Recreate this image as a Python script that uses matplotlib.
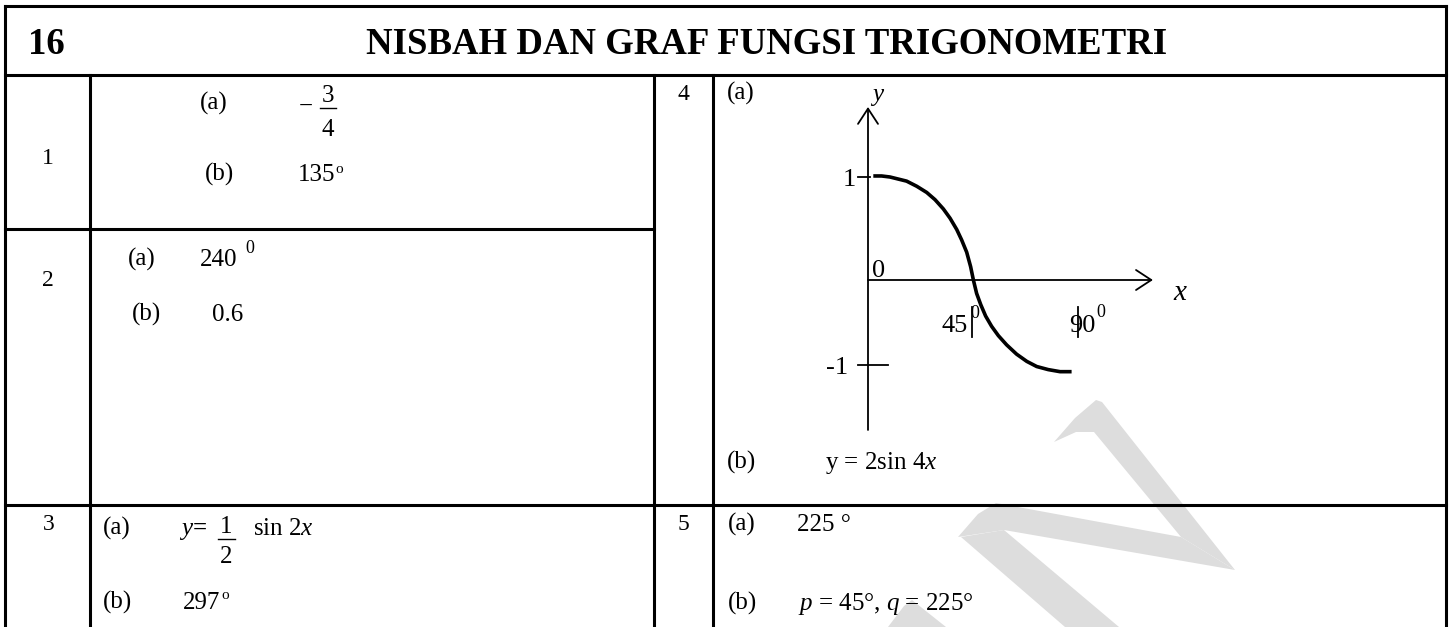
import matplotlib
matplotlib.use('Agg')
import matplotlib.pyplot as plt
from matplotlib.patches import Polygon

plt.rcParams['font.family'] = ['Liberation Serif', 'DejaVu Serif']
plt.rcParams['mathtext.fontset'] = 'custom'
plt.rcParams['mathtext.rm'] = 'Liberation Serif'
plt.rcParams['mathtext.it'] = 'Liberation Serif:italic'
plt.rcParams['mathtext.bf'] = 'Liberation Serif:bold'

# ---------------- data ----------------
title_number = '16'
title_text = 'NISBAH DAN GRAF FUNGSI TRIGONOMETRI'
question_numbers = ['1', '2', '3', '4', '5']
part_labels = ['(a)', '(b)']

q1_answers = ['135']          # (a) is the fraction -3/4
q1_fraction = ('\u2212', '3', '4')
q2_answers = ['240', '0.6']
q3_fraction = ('1', '2')
q3_answers = ['297']
q4_answer_b = 'y = 2sin 4$x$'
q5_answers = ['225 \u00b0', '$p$ = 45\u00b0, $q$ = 225\u00b0']

# graph of question 4 (x in degrees, y in units)
curve_x = [2.3, 5.9, 9.5, 13.1, 16.7, 21.1, 25.4, 29.0, 32.6, 35.5, 38.4, 40.5,
           42.7, 44.4, 45.6, 47.0, 48.8, 50.9, 53.5, 56.4, 60.0, 64.3, 68.7,
           73.0, 78.0, 83.1, 88.1]
curve_y = [1.01, 1.01, 1.00, 0.98, 0.96, 0.91, 0.85, 0.78, 0.69, 0.60, 0.49, 0.39,
           0.27, 0.13, 0.0, -0.13, -0.24, -0.35, -0.45, -0.54, -0.63, -0.72, -0.79,
           -0.84, -0.87, -0.89, -0.89]
ytick_values = [1.0, -0.825]
ytick_labels = ['1', '-1']
xtick_values = [45, 91]
xtick_labels = ['45', '90']
x_axis_end = 123.3
y_axis_top = 1.68
y_axis_bottom = -1.456

# ---------------- figure ----------------
W, H = 1451, 627
fig = plt.figure(figsize=(W / 100, H / 100), dpi=100)
fig.patch.set_facecolor('white')
ax0 = fig.add_axes([0, 0, 1, 1])
ax0.set_xlim(0, W)
ax0.set_ylim(H, 0)
ax0.axis('off')

# watermark (light grey strokes)
wm = '#dddddd'
for poly in [
    [(1054, 442), (1075, 418), (1096, 400), (1102, 402), (1235, 570), (1181, 537), (1094, 432), (1076, 432)],
    [(958, 537), (978, 514), (996, 503), (1181, 537), (1235, 570), (1004, 530)],
    [(961, 537), (1004, 530), (1119, 627), (1065, 627)],
    [(888, 627), (904, 606), (912, 600), (946, 627)],
]:
    ax0.add_patch(Polygon(poly, closed=True, facecolor=wm, edgecolor='none', zorder=0))

LW = 2.2


def seg(x0, y0, x1, y1, lw=LW):
    ax0.plot([x0, x1], [y0, y1], color='black', lw=lw, solid_capstyle='projecting', zorder=3)


seg(5, 5.5, 1446, 5.5)
seg(5, 5.5, 5, 640)
seg(1446, 5.5, 1446, 640)
seg(5, 75, 1446, 75)
seg(90, 75, 90, 640)
seg(654, 75, 654, 640)
seg(713, 75, 713, 640)
seg(5, 229, 654, 229)
seg(5, 505, 1446, 505)


def T(x, y, s, size=18, ha='left', **kw):
    ax0.text(x, y, s, fontsize=size, ha=ha, va='baseline', color='black', zorder=4, **kw)


# header
T(28, 54, title_number, size=26.5, fontweight='bold')
T(767, 54, title_text, size=26.5, ha='center', fontweight='bold')

# question numbers
NS = 17
T(47.5, 163.5, question_numbers[0], size=NS, ha='center')
T(47.5, 285.5, question_numbers[1], size=NS, ha='center')
T(48.5, 529.5, question_numbers[2], size=NS, ha='center')
T(683.5, 100, question_numbers[3], size=NS, ha='center')
T(683.5, 530, question_numbers[4], size=NS, ha='center')

# question 1
T(200, 110, part_labels[0])
T(299, 113, q1_fraction[0])
T(328, 102, q1_fraction[1], ha='center')
ax0.plot([320, 336], [108, 108], color='black', lw=1.0, zorder=4)
T(328, 136.5, q1_fraction[2], ha='center')
T(205, 181, part_labels[1])
T(298, 181, q1_answers[0])
T(335.5, 173, 'o', size=11)

# question 2
T(128, 266, part_labels[0])
T(200, 266, q2_answers[0])
T(245, 253, '0', size=13)
T(132, 321, part_labels[1])
T(212, 321, q2_answers[1])

# question 3
T(103, 535, part_labels[0])
T(179, 535, '$y$')
T(200, 535, '=', ha='center', fontweight='bold')
T(226, 533, q3_fraction[0], ha='center')
ax0.plot([218, 235], [539, 539], color='black', lw=1.0, zorder=4)
T(226, 563, q3_fraction[1], ha='center')
T(253, 535, 'sin 2$x$')
T(103, 609, part_labels[1])
T(183, 609, q3_answers[0])
T(221.5, 599, 'o', size=11)

# question 4
T(727, 100, part_labels[0])
T(727, 469, part_labels[1])
T(825, 469, q4_answer_b)

# question 5
T(728, 531, part_labels[0])
T(797, 531, q5_answers[0])
T(728, 610, part_labels[1])
T(798, 610, q5_answers[1])

# ---------------- graph of question 4 ----------------
PX_PER_DEG = 2.311
PX_PER_UNIT = 103.0
OX, OY = 868, 280
bx0, bx1, by0, by1 = 800, 1220, 95, 445
gax = fig.add_axes([bx0 / W, 1 - by1 / H, (bx1 - bx0) / W, (by1 - by0) / H])
gax.set_xlim((bx0 - OX) / PX_PER_DEG, (bx1 - OX) / PX_PER_DEG)
gax.set_ylim((OY - by1) / PX_PER_UNIT, (OY - by0) / PX_PER_UNIT)
gax.axis('off')
gax.patch.set_alpha(0)

AXLW = 1.3
arrow = dict(arrowstyle='->,head_length=0.55,head_width=0.36', lw=AXLW, color='black',
             shrinkA=0, shrinkB=0, mutation_scale=20)
gax.annotate('', xy=(0, y_axis_top), xytext=(0, y_axis_bottom), arrowprops=arrow)
gax.annotate('', xy=(x_axis_end, 0), xytext=(0, 0), arrowprops=arrow)

# y ticks
dpx = 1 / PX_PER_DEG
gax.plot([-10 * dpx, 2 * dpx], [ytick_values[0]] * 2, color='black', lw=AXLW)
gax.plot([-10 * dpx, 20 * dpx], [ytick_values[1]] * 2, color='black', lw=AXLW)
# x ticks
for xv in xtick_values:
    gax.plot([xv, xv], [-27 / PX_PER_UNIT, -57 / PX_PER_UNIT], color='black', lw=AXLW)

GS = 19
gax.annotate(ytick_labels[0], xy=(0, ytick_values[0]), xytext=(-12, -9), textcoords='offset pixels',
             ha='right', va='baseline', fontsize=GS)
gax.annotate(ytick_labels[1], xy=(0, ytick_values[1]), xytext=(-20, -9), textcoords='offset pixels',
             ha='right', va='baseline', fontsize=GS)
gax.annotate('0', xy=(0, 0), xytext=(4, 3), textcoords='offset pixels',
             ha='left', va='baseline', fontsize=GS)
gax.annotate(xtick_labels[0], xy=(xtick_values[0], 0), xytext=(-4, -52), textcoords='offset pixels',
             ha='right', va='baseline', fontsize=GS)
gax.annotate('0', xy=(xtick_values[0], 0), xytext=(-2, -38), textcoords='offset pixels',
             ha='left', va='baseline', fontsize=13)
gax.annotate(xtick_labels[1], xy=(xtick_values[1], 0), xytext=(-9, -52), textcoords='offset pixels',
             ha='left', va='baseline', fontsize=GS)
gax.annotate('0', xy=(xtick_values[1], 0), xytext=(18, -37), textcoords='offset pixels',
             ha='left', va='baseline', fontsize=13)
gax.annotate('$x$', xy=(x_axis_end, 0), xytext=(28, -20), textcoords='offset pixels',
             ha='center', va='baseline', fontsize=21)
gax.annotate('$y$', xy=(0, y_axis_top), xytext=(2, 6), textcoords='offset pixels',
             ha='left', va='baseline', fontsize=18)

gax.plot(curve_x, curve_y, color='black', lw=2.6, solid_capstyle='butt', solid_joinstyle='round')

fig.savefig('out.png', dpi=100, facecolor='white')
